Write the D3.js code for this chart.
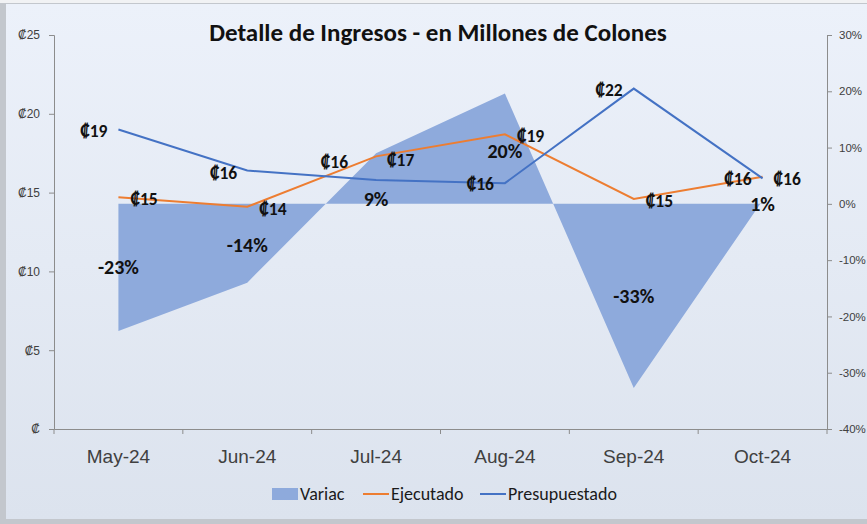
<!DOCTYPE html>
<html>
<head>
<meta charset="utf-8">
<script src="https://cdnjs.cloudflare.com/ajax/libs/d3/7.8.5/d3.min.js"></script>
<style>
  body { margin: 0; background: #c9cdd3; }
  svg { display: block; font-family: Calibri, Carlito, Lato, "Noto Sans", sans-serif; }
  .axis path, .axis line { stroke: #8c8c8c; }
  .axis text { fill: #404040; }
</style>
</head>
<body>
<div id="chart"></div>
<script>
const months = ["May-24", "Jun-24", "Jul-24", "Aug-24", "Sep-24", "Oct-24"];
const presupuestado = [19.0, 16.4, 15.8, 15.6, 21.6, 15.9];
const ejecutado = [14.7, 14.1, 17.3, 18.7, 14.6, 16.0];
const variac = [-0.226, -0.14, 0.09, 0.196, -0.327, 0.006];
const leftTicks = [0, 5, 10, 15, 20, 25];
const rightTicks = [-0.4, -0.3, -0.2, -0.1, 0, 0.1, 0.2, 0.3];

// label placement (pixels relative to the point)
const presLabelDx = [-11, -10, -28, -11, -11, 11];
const presLabelDy = [1, 2, -18, 1, 1.5, 0];
const ejLabelDx = [12, 12, 11, 12, 12, -11];
const ejLabelDy = [2, 2, 4, 2, 2, 2];
const varLabelDy = [0, 2, 20, 2, 0, 2];

const W = 867, H = 524;
const margin = { top: 35, right: 40, bottom: 95, left: 54 };
const width = W - margin.left - margin.right,
  height = H - margin.top - margin.bottom;

const loc = d3.formatLocale({ decimal: ".", thousands: ",", grouping: [3], currency: ["₡", ""], minus: "-" });
const pct = loc.format(".0%");

const svg = d3.select("#chart").append("svg").attr("width", W).attr("height", H);

// frame
const defs = svg.append("defs");
const grad = defs.append("linearGradient").attr("id", "bg").attr("x1", 0).attr("x2", 0).attr("y1", 0).attr("y2", 1);
grad.append("stop").attr("offset", "0%").attr("stop-color", "#ecf1fa");
grad.append("stop").attr("offset", "100%").attr("stop-color", "#dce3ee");
svg.append("rect").attr("x", 0).attr("y", 0).attr("width", W).attr("height", H).attr("fill", "#f1f2f4");
svg.append("rect").attr("x", 0).attr("y", 3).attr("width", W).attr("height", H - 3).attr("fill", "#c3c7cd");
svg.append("rect").attr("x", 6).attr("y", 4).attr("width", W - 6).attr("height", H - 9).attr("fill", "url(#bg)");

const g = svg.append("g").attr("transform", `translate(${margin.left},${margin.top})`);

const x = d3.scaleBand().domain(months).range([0, width]).padding(0);
const cx = (i) => x(months[i]) + x.bandwidth() / 2;
const y = d3.scaleLinear().domain([0, 25]).range([height, 0]);
const yR = d3.scaleLinear().domain([-0.4, 0.3]).range([height, 0]);

// area (Variac)
g.append("path")
  .datum(variac)
  .attr("fill", "#8eaadc")
  .attr("d", d3.area().x((d, i) => cx(i)).y0(yR(0)).y1((d) => yR(d)));

// axes
g.append("g").attr("class", "axis")
  .call(d3.axisLeft(y).tickValues(leftTicks).tickSize(5).tickPadding(9)
    .tickFormat((d) => d === 0 ? "₡" : "₡" + d))
  .call((a) => a.selectAll("text").attr("font-size", 12));

g.append("g").attr("class", "axis").attr("transform", `translate(${width},0)`)
  .call(d3.axisRight(yR).tickValues(rightTicks).tickSize(5).tickPadding(7).tickFormat(pct))
  .call((a) => a.selectAll("text").attr("font-size", 11.5));

const xa = g.append("g").attr("class", "axis").attr("transform", `translate(0,${height})`)
  .call(d3.axisBottom(x).tickSize(0).tickPadding(21))
  .call((a) => a.selectAll("text").attr("font-size", 19).attr("fill", "#1a1a1a"));
xa.selectAll(".bound").data(months.map((m) => x(m)).concat([width]))
  .enter().append("line").attr("class", "bound")
  .attr("x1", (d) => d).attr("x2", (d) => d).attr("y1", 0).attr("y2", 5);

// lines
const line = d3.line().x((d, i) => cx(i)).y((d) => y(d));
g.append("path").datum(ejecutado).attr("fill", "none").attr("stroke", "#ed7d31").attr("stroke-width", 2).attr("d", line);
g.append("path").datum(presupuestado).attr("fill", "none").attr("stroke", "#4472c4").attr("stroke-width", 2).attr("d", line);

// data labels
const colon = (v) => "₡" + d3.format(".0f")(v);
g.selectAll(".plab").data(presupuestado).enter().append("text")
  .attr("x", (d, i) => cx(i) + presLabelDx[i])
  .attr("y", (d, i) => y(d) + presLabelDy[i])
  .attr("dy", "0.35em")
  .attr("text-anchor", (d, i) => presLabelDx[i] < 0 ? "end" : "start")
  .attr("font-size", 17.5).attr("font-weight", "bold").attr("fill", "#111")
  .text(colon);

g.selectAll(".elab").data(ejecutado).enter().append("text")
  .attr("x", (d, i) => cx(i) + ejLabelDx[i])
  .attr("y", (d, i) => y(d) + ejLabelDy[i])
  .attr("dy", "0.35em")
  .attr("text-anchor", (d, i) => ejLabelDx[i] < 0 ? "end" : "start")
  .attr("font-size", 17.5).attr("font-weight", "bold").attr("fill", "#111")
  .text(colon);

g.selectAll(".vlab").data(variac).enter().append("text")
  .attr("x", (d, i) => cx(i))
  .attr("y", (d, i) => (yR(0) + yR(d)) / 2 + varLabelDy[i])
  .attr("dy", "0.35em")
  .attr("text-anchor", "middle")
  .attr("font-size", 20).attr("font-weight", "bold").attr("fill", "#111")
  .text(pct);

// title
svg.append("text").attr("x", 438).attr("y", 32).attr("dy", "0.35em")
  .attr("text-anchor", "middle").attr("font-size", 25).attr("font-weight", "bold").attr("fill", "#111")
  .text("Detalle de Ingresos - en Millones de Colones");

// legend
const lg = svg.append("g").attr("transform", "translate(0,494)");
const items = [
  { name: "Variac", color: "#8eaadc", type: "rect", x: 272 },
  { name: "Ejecutado", color: "#ed7d31", type: "line", x: 363 },
  { name: "Presupuestado", color: "#4472c4", type: "line", x: 480 },
];
items.forEach((it) => {
  if (it.type === "rect") {
    lg.append("rect").attr("x", it.x).attr("y", -6).attr("width", 26).attr("height", 12).attr("fill", it.color);
  } else {
    lg.append("line").attr("x1", it.x).attr("x2", it.x + 26).attr("y1", 0).attr("y2", 0)
      .attr("stroke", it.color).attr("stroke-width", 2);
  }
  lg.append("text").attr("x", it.x + 28).attr("y", 0).attr("dy", "0.35em")
    .attr("font-size", 18).attr("fill", "#1a1a1a").text(it.name);
});
</script>
</body>
</html>
